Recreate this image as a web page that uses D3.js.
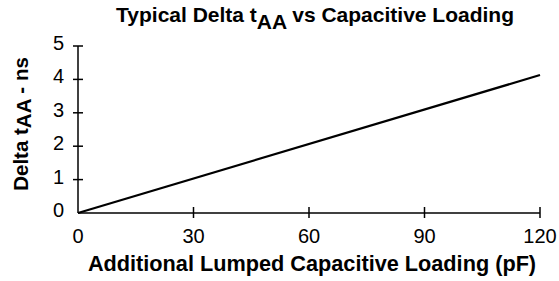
<!DOCTYPE html>
<html>
<head>
<meta charset="utf-8">
<script src="https://cdn.jsdelivr.net/npm/d3@7"></script>
<style>
  body { margin: 0; background: #fff; }
  text { font-family: "Liberation Sans", Arial, sans-serif; fill: #000; }
</style>
</head>
<body>
<div id="chart"></div>
<script>
// data
var loadPF = [0, 120];
var deltaNs = [0, 4.13];
var xTicks = [0, 30, 60, 90, 120];
var yTicks = [0, 1, 2, 3, 4, 5];

var width = 559, height = 281;
var plotLeft = 78, plotRight = 540, plotTop = 46, plotBottom = 213;

var svg = d3.select("#chart").append("svg")
    .attr("width", width)
    .attr("height", height);

var x = d3.scaleLinear().domain([0, 120]).range([plotLeft, plotRight]);
var y = d3.scaleLinear().domain([0, 5]).range([plotBottom, plotTop]);

// axes lines
svg.append("line")
    .attr("x1", x(0)).attr("x2", x(120))
    .attr("y1", y(0)).attr("y2", y(0))
    .attr("stroke", "#000").attr("stroke-width", 1.5);
svg.append("line")
    .attr("x1", x(0)).attr("x2", x(0))
    .attr("y1", y(0)).attr("y2", y(5))
    .attr("stroke", "#000").attr("stroke-width", 1.5);

// cross ticks
xTicks.slice(1).forEach(function(t){
    svg.append("line")
        .attr("x1", x(t)).attr("x2", x(t))
        .attr("y1", y(0) - 6).attr("y2", y(0) + 5)
        .attr("stroke", "#000").attr("stroke-width", 1.5);
});
yTicks.slice(1).forEach(function(t){
    svg.append("line")
        .attr("x1", x(0) - 5).attr("x2", x(0) + 5)
        .attr("y1", y(t)).attr("y2", y(t))
        .attr("stroke", "#000").attr("stroke-width", 1.5);
});

// tick labels
xTicks.forEach(function(t){
    svg.append("text")
        .attr("x", x(t)).attr("y", 243)
        .attr("text-anchor", "middle")
        .attr("font-size", 20)
        .text(t);
});
yTicks.forEach(function(t){
    svg.append("text")
        .attr("x", 64).attr("y", y(t) + 4)
        .attr("text-anchor", "end")
        .attr("font-size", 20)
        .text(t);
});

// data line
var line = d3.line()
    .x(function(d){ return x(d[0]); })
    .y(function(d){ return y(d[1]); });
svg.append("path")
    .datum(d3.zip(loadPF, deltaNs))
    .attr("d", line)
    .attr("fill", "none")
    .attr("stroke", "#000")
    .attr("stroke-width", 2.2);

// title with subscript
var title = svg.append("text")
    .attr("x", 315).attr("y", 22)
    .attr("text-anchor", "middle")
    .attr("font-size", 21)
    .attr("font-weight", "bold");
title.append("tspan").text("Typical Delta t");
title.append("tspan").attr("dy", 7).text("AA");
title.append("tspan").attr("dy", -7).text(" vs Capacitive Loading");

// x axis label
svg.append("text")
    .attr("x", 312).attr("y", 271)
    .attr("text-anchor", "middle")
    .attr("font-size", 21.7)
    .attr("font-weight", "bold")
    .text("Additional Lumped Capacitive Loading (pF)");

// y axis label
var ylab = svg.append("text")
    .attr("transform", "translate(28,124) rotate(-90)")
    .attr("text-anchor", "middle")
    .attr("font-size", 20.5)
    .attr("font-weight", "bold");
ylab.append("tspan").text("Delta t");
ylab.append("tspan").attr("dy", 3).text("AA");
ylab.append("tspan").attr("dy", -3).text(" - ns");
</script>
</body>
</html>
